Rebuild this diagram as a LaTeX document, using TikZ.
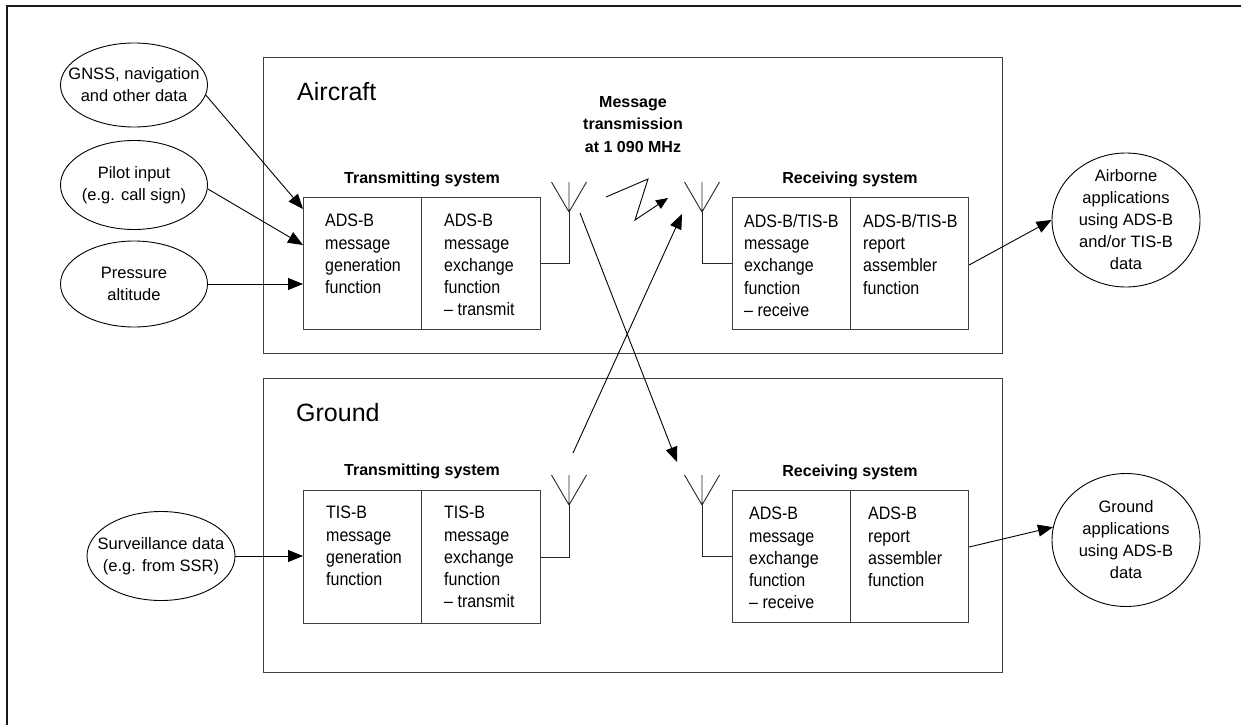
\documentclass[tikz,border=0pt]{standalone}
\usepackage{fontspec}
\setmainfont{Liberation Sans}
\newfontfamily\cellfont{Liberation Sans}[FakeStretch=0.89, Ligatures=TeX]
\usetikzlibrary{arrows.meta,shapes.geometric,calc}
\begin{document}
\begin{tikzpicture}[x=1pt,y=-1pt,
  txt/.style={font=\fontsize{16.5}{22}\selectfont, text=black, inner sep=0pt},
  celltext/.style={font=\cellfont\fontsize{18}{22.3}\selectfont, text=black, inner sep=0pt, anchor=north west, align=left},
  title/.style={font=\bfseries\fontsize{16}{22.5}\selectfont, text=black, inner sep=0pt},
  biglabel/.style={font=\fontsize{25}{30}\selectfont, text=black, inner sep=0pt, anchor=base west},
  cell/.style={draw=black!75, line width=1.1pt, anchor=north west, inner sep=0pt},
  framebox/.style={draw=black!75, line width=1.1pt, anchor=north west, inner sep=0pt},
  ell/.style={draw=black, line width=0.9pt, ellipse, inner sep=0pt},
  arr/.style={draw=black, line width=0.9pt, -{Triangle[length=15pt,width=12pt]}},
  arrs/.style={draw=black, line width=0.9pt, -{Triangle[length=12pt,width=10pt]}},
  ant/.style={draw=black!85, line width=0.9pt},
]
\useasboundingbox (0,0) rectangle (1241,725);
% outer frame (partly visible)
\draw[line width=2pt, black!90] (7,725) -- (7,6) -- (1241,6);

% section frames
\node[framebox, minimum width=739pt, minimum height=296pt] (aircraftbox) at (263,57) {};
\node[framebox, minimum width=739pt, minimum height=294pt] (groundbox) at (263,378) {};
\node[biglabel] (aircraftlbl) at (297,100) {Aircraft};
\node[biglabel] (groundlbl) at (296,421) {Ground};

% aircraft cells
\node[cell, minimum width=118pt, minimum height=132pt] (atx1) at (303,197) {};
\node[cell, minimum width=119pt, minimum height=132pt] (atx2) at (421,197) {};
\node[cell, minimum width=118pt, minimum height=132pt] (arx1) at (732,197) {};
\node[cell, minimum width=118pt, minimum height=132pt] (arx2) at (850,197) {};
% ground cells
\node[cell, minimum width=118pt, minimum height=133pt] (gtx1) at (303,490) {};
\node[cell, minimum width=119pt, minimum height=133pt] (gtx2) at (421,490) {};
\node[cell, minimum width=118pt, minimum height=132pt] (grx1) at (732,490) {};
\node[cell, minimum width=118pt, minimum height=132pt] (grx2) at (850,490) {};

% cell texts
\node[celltext] (atx1t) at ($(atx1.north west)+(22,17)$) {ADS-B\\message\\generation\\function};
\node[celltext] (atx2t) at ($(atx2.north west)+(23,17)$) {ADS-B\\message\\exchange\\function\\\textendash{} transmit};
\node[celltext] (arx1t) at ($(arx1.north west)+(12,17)$) {ADS-B/TIS-B\\message\\exchange\\function\\\textendash{} receive};
\node[celltext] (arx2t) at ($(arx2.north west)+(13,17)$) {ADS-B/TIS-B\\report\\assembler\\function};
\node[celltext] (gtx1t) at ($(gtx1.north west)+(23,16)$) {TIS-B\\message\\generation\\function};
\node[celltext] (gtx2t) at ($(gtx2.north west)+(23,16)$) {TIS-B\\message\\exchange\\function\\\textendash{} transmit};
\node[celltext] (grx1t) at ($(grx1.north west)+(17,17)$) {ADS-B\\message\\exchange\\function\\\textendash{} receive};
\node[celltext] (grx2t) at ($(grx2.north west)+(18,17)$) {ADS-B\\report\\assembler\\function};

% titles
\node[title, anchor=base] (atxtitle) at (422,183.5) {Transmitting system};
\node[title, anchor=base] (arxtitle) at (850,183.5) {Receiving system};
\node[title, anchor=base] (gtxtitle) at (422,475) {Transmitting system};
\node[title, anchor=base] (grxtitle) at (850,476) {Receiving system};
\node[title, align=center, anchor=north] (msg) at (633,96) {Message\\transmission\\at 1 090 MHz};

% ellipses
\node[ell, minimum width=147pt, minimum height=84pt] (gnss) at (134,85) {};
\node[txt, align=center] (gnsst) at (gnss.center) {GNSS, navigation\\and other data};
\node[ell, minimum width=147pt, minimum height=89pt] (pilot) at (134,185) {};
\node[txt, align=center] (pilott) at (pilot.center) {Pilot input\\(e.g. call sign)};
\node[ell, minimum width=147pt, minimum height=86pt] (press) at (134,284) {};
\node[txt, align=center] (presst) at (press.center) {Pressure\\altitude};
\node[ell, minimum width=148pt, minimum height=89pt] (surv) at (161,556) {};
\node[txt, align=center] (survt) at (surv.center) {Surveillance data\\(e.g. from SSR)};
\node[ell, minimum width=148pt, minimum height=134pt] (airapp) at (1126,220) {};
\node[txt, align=center] (airappt) at (airapp.center) {Airborne\\applications\\using ADS-B\\and/or TIS-B\\data};
\node[ell, minimum width=148pt, minimum height=133pt] (gndapp) at (1126,540) {};
\node[txt, align=center] (gndappt) at (gndapp.center) {Ground\\applications\\using ADS-B\\data};

% input arrows
\draw[arr] (gnss.-8) -- ($(atx1.north west)+(0,12)$);
\draw[arr] (pilot.-3) -- ($(atx1.north west)+(0,48)$);
\draw[arr] (press.east) -- (press.east -| atx1.west);
\draw[arr] (surv.east) -- (surv.east -| gtx1.west);
\draw[arr] ($(arx2.north east)+(0,68)$) -- (airapp.west);
\draw[arr] ($(grx2.north east)+(0,57)$) -- (gndapp.170);

% antennas
\coordinate (antAT) at (569,212);
\coordinate (antAR) at (702,212);
\coordinate (antGT) at (569,505);
\coordinate (antGR) at (702,505);
\foreach \a in {antAT,antAR,antGT,antGR}{
  \draw[ant] (\a) -- ++(0,-30) (\a) -- ++(-17.5,-30) (\a) -- ++(17.5,-30);
}
\draw[ant] (atx2.east) -| (antAT);
\draw[ant] (arx1.west) -| (antAR);
\draw[ant] (gtx2.east) -| (antGT);
\draw[ant] (grx1.west) -| (antGR);

% zigzag
\coordinate (z0) at (606,197);
\coordinate (z1) at (648,179);
\coordinate (z2) at (635,220);
\coordinate (z3) at (668,198);
\draw[arrs, line join=miter] (z0) -- (z1) -- (z2) -- (z3);

% crossing arrows
\coordinate (c1s) at (580,213);
\coordinate (c1e) at (677,462);
\coordinate (c2s) at (573,453);
\coordinate (c2e) at (682,214);
\draw[arr] (c1s) -- (c1e);
\draw[arr] (c2s) -- (c2e);
\end{tikzpicture}
\end{document}
